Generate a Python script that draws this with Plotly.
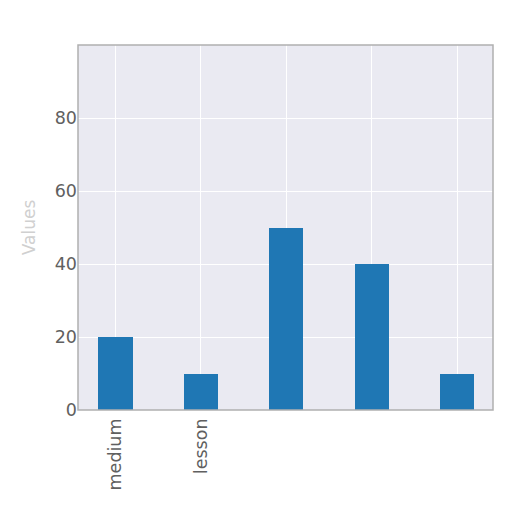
import plotly.graph_objects as go

categories = ["medium", "lesson", "c3", "c4", "c5"]
tick_labels = ["medium", "lesson", "", "", ""]
values = [20, 10, 50, 40, 10]
y_ticks = [0, 20, 40, 60, 80]

fig = go.Figure()
fig.add_trace(go.Bar(
    x=categories, y=values, width=0.4,
    marker=dict(color="#1f77b4", line=dict(width=0)),
))

fig.update_layout(
    width=512, height=512,
    margin=dict(l=70, r=27, t=37, b=110),
    paper_bgcolor="white",
    plot_bgcolor="#EAEAF2",
    font=dict(family="DejaVu Sans", size=17.5, color="#606060"),
    showlegend=False,
    bargap=0,
)
fig.update_xaxes(
    tickmode="array", tickvals=categories, ticktext=tick_labels,
    tickangle=-90, range=[-0.44, 4.42],
    showgrid=True, gridcolor="white", gridwidth=1,
    showline=False, zeroline=False, ticks="", ticklabelstandoff=4,
)
fig.update_yaxes(
    range=[0, 100], tickvals=y_ticks,
    showgrid=True, gridcolor="white", gridwidth=1,
    zeroline=False, showline=False, ticks="",
    title=dict(text="Values", font=dict(size=17, color="#d0d0d0"), standoff=14),
)
fig.add_shape(type="rect", xref="paper", yref="paper", x0=0, y0=0, x1=1, y1=1,
              line=dict(color="#b0b0b0", width=1.5), fillcolor="rgba(0,0,0,0)")

fig.write_html("out.html")
